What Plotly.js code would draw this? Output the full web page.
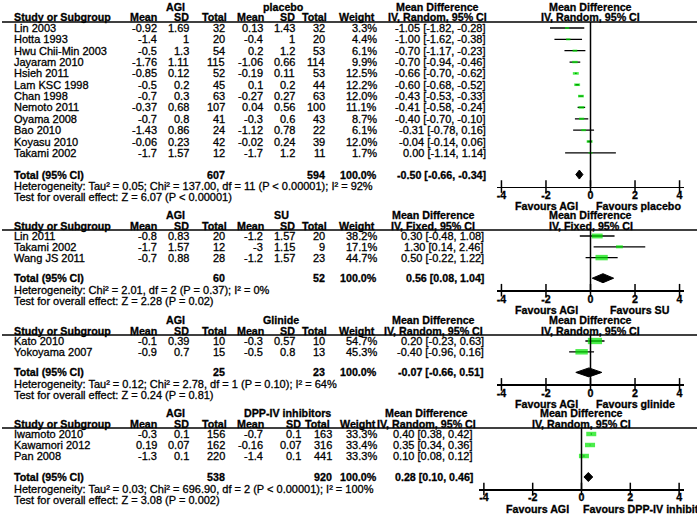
<!DOCTYPE html>
<html><head><meta charset="utf-8">
<script src="https://cdn.plot.ly/plotly-3.0.1.min.js"></script>
<style>html,body{margin:0;padding:0;background:#fff;}#chart{width:697px;height:515px;}
#chart svg text{stroke:#000;stroke-width:0.3px;}</style>
</head><body><div id="chart"></div>
<script>
// ================= DATA =================
// AGI vs placebo
const placeboStudies = ["Lin 2003","Hotta 1993","Hwu Chii-Min 2003","Jayaram 2010","Hsieh 2011","Lam KSC 1998","Chan 1998","Nemoto 2011","Oyama 2008","Bao 2010","Koyasu 2010","Takami 2002"];
const placeboAgiMean = [-0.92,-1.4,-0.5,-1.76,-0.85,-0.5,-0.7,-0.37,-0.7,-1.43,-0.06,-1.7];
const placeboAgiSD   = [1.69,1,1.3,1.11,0.12,0.2,0.3,0.68,0.8,0.86,0.23,1.57];
const placeboAgiN    = [32,20,54,115,52,45,63,107,41,24,42,12];
const placeboCtlMean = [0.13,-0.4,0.2,-1.06,-0.19,0.1,-0.27,0.04,-0.3,-1.12,-0.02,-1.7];
const placeboCtlSD   = [1.43,1,1.2,0.66,0.11,0.2,0.27,0.56,0.6,0.78,0.24,1.2];
const placeboCtlN    = [32,20,53,114,53,44,63,100,43,22,39,11];
const placeboWeight  = [3.3,4.4,6.1,9.9,12.5,12.2,12.0,11.1,8.7,6.1,12.0,1.7];
const placeboMD      = [-1.05,-1.00,-0.70,-0.70,-0.66,-0.60,-0.43,-0.41,-0.40,-0.31,-0.04,0.00];
const placeboLo      = [-1.82,-1.62,-1.17,-0.94,-0.70,-0.68,-0.53,-0.58,-0.70,-0.78,-0.14,-1.14];
const placeboHi      = [-0.28,-0.38,-0.23,-0.46,-0.62,-0.52,-0.33,-0.24,-0.10,0.16,0.06,1.14];
const placeboTotalN  = [607, 594];
const placeboPooled  = [-0.50, -0.66, -0.34];
const placeboHet  = "Heterogeneity: Tau² = 0.05; Chi² = 137.00, df = 11 (P < 0.00001); I² = 92%";
const placeboTest = "Test for overall effect: Z = 6.07 (P < 0.00001)";

// AGI vs SU
const suStudies = ["Lin 2011","Takami 2002","Wang JS 2011"];
const suAgiMean = [-0.8,-1.7,-0.7];
const suAgiSD   = [0.83,1.57,0.88];
const suAgiN    = [20,12,28];
const suCtlMean = [-1.2,-3,-1.2];
const suCtlSD   = [1.57,1.15,1.57];
const suCtlN    = [20,9,23];
const suWeight  = [38.2,17.1,44.7];
const suMD      = [0.30,1.30,0.50];
const suLo      = [-0.48,0.14,-0.22];
const suHi      = [1.08,2.46,1.22];
const suTotalN  = [60, 52];
const suPooled  = [0.56, 0.08, 1.04];
const suHet  = "Heterogeneity: Chi² = 2.01, df = 2 (P = 0.37); I² = 0%";
const suTest = "Test for overall effect: Z = 2.28 (P = 0.02)";

// AGI vs Glinide
const glStudies = ["Kato 2010","Yokoyama 2007"];
const glAgiMean = [-0.1,-0.9];
const glAgiSD   = [0.39,0.7];
const glAgiN    = [10,15];
const glCtlMean = [-0.3,-0.5];
const glCtlSD   = [0.57,0.8];
const glCtlN    = [10,13];
const glWeight  = [54.7,45.3];
const glMD      = [0.20,-0.40];
const glLo      = [-0.23,-0.96];
const glHi      = [0.63,0.16];
const glTotalN  = [25, 23];
const glPooled  = [-0.07, -0.66, 0.51];
const glHet  = "Heterogeneity: Tau² = 0.12; Chi² = 2.78, df = 1 (P = 0.10); I² = 64%";
const glTest = "Test for overall effect: Z = 0.24 (P = 0.81)";

// AGI vs DPP-IV inhibitors
const dppStudies = ["Iwamoto 2010","Kawamori 2012","Pan 2008"];
const dppAgiMean = [-0.3,0.19,-1.3];
const dppAgiSD   = [0.1,0.07,0.1];
const dppAgiN    = [156,162,220];
const dppCtlMean = [-0.7,-0.16,-1.4];
const dppCtlSD   = [0.1,0.07,0.1];
const dppCtlN    = [163,316,441];
const dppWeight  = [33.3,33.4,33.3];
const dppMD      = [0.40,0.35,0.10];
const dppLo      = [0.38,0.34,0.08];
const dppHi      = [0.42,0.36,0.12];
const dppTotalN  = [538, 920];
const dppPooled  = [0.28, 0.10, 0.46];
const dppHet  = "Heterogeneity: Tau² = 0.03; Chi² = 696.90, df = 2 (P < 0.00001); I² = 100%";
const dppTest = "Test for overall effect: Z = 3.08 (P = 0.002)";

const tickVals   = [-4,-2,0,2,4];
const tickLabels = ["-4","-2","0","2","4"];

// ================= BUILD =================
const W = 697, H = 515;
const px = x => x / W, py = y => 1 - y / H;
const FONT = '"Liberation Sans", Arial, sans-serif';
const FS = 11;      // body text
const FSB = 10.7;   // bold header text
const GREEN = '#00e600';

const panels = [
  {studies:placeboStudies, am:placeboAgiMean, asd:placeboAgiSD, an:placeboAgiN, cm:placeboCtlMean, csd:placeboCtlSD, cn:placeboCtlN,
   w:placeboWeight, md:placeboMD, lo:placeboLo, hi:placeboHi, totN:placeboTotalN, pooled:placeboPooled, het:placeboHet, test:placeboTest,
   ctl:"placebo", method:"IV, Random, 95% CI", fav:"Favours placebo",
   st:{top:7, pitch:11.35, plotL:497, plotR:684, ctlHdrC:283, ctlMR:264, ctlSDR:296, ctlTotR:326, totHdrR:328, wHdrR:376, mdR:487, mdC:437, favR:4}},
  {studies:suStudies, am:suAgiMean, asd:suAgiSD, an:suAgiN, cm:suCtlMean, csd:suCtlSD, cn:suCtlN,
   w:suWeight, md:suMD, lo:suLo, hi:suHi, totN:suTotalN, pooled:suPooled, het:suHet, test:suTest,
   ctl:"SU", method:"IV, Fixed, 95% CI", fav:"Favours SU",
   st:{top:215, pitch:10.8, plotL:497, plotR:684, ctlHdrC:281, ctlMR:264, ctlSDR:296, ctlTotR:326, totHdrR:328, wHdrR:376, mdR:485, mdC:433, favR:18}},
  {studies:glStudies, am:glAgiMean, asd:glAgiSD, an:glAgiN, cm:glCtlMean, csd:glCtlSD, cn:glCtlN,
   w:glWeight, md:glMD, lo:glLo, hi:glHi, totN:glTotalN, pooled:glPooled, het:glHet, test:glTest,
   ctl:"Glinide", method:"IV, Random, 95% CI", fav:"Favours glinide",
   st:{top:320, pitch:10.8, plotL:497, plotR:684, ctlHdrC:281, ctlMR:264, ctlSDR:296, ctlTotR:326, totHdrR:328, wHdrR:376, mdR:485, mdC:433, favR:4}},
  {studies:dppStudies, am:dppAgiMean, asd:dppAgiSD, an:dppAgiN, cm:dppCtlMean, csd:dppCtlSD, cn:dppCtlN,
   w:dppWeight, md:dppMD, lo:dppLo, hi:dppHi, totN:dppTotalN, pooled:dppPooled, het:dppHet, test:dppTest,
   ctl:"DPP-IV inhibitors", method:"IV, Random, 95% CI", fav:"Favours DPP-IV inhibitors",
   st:{top:413, pitch:11, plotL:479, plotR:684, ctlHdrC:287, ctlMR:264, ctlSDR:302, ctlTotR:333, totHdrR:331, wHdrR:377, mdR:474, mdC:426, favR:0}}
];

const annotations = [], shapes = [], traces = [];
const layout = {
  width:W, height:H, autosize:false, margin:{l:0,r:0,t:0,b:0,pad:0},
  paper_bgcolor:'#ffffff', plot_bgcolor:'rgba(0,0,0,0)', showlegend:false,
  font:{family:FONT, size:FS, color:'#000'}
};

function txt(x, y, s, anchor, bold, xref, xshift) {
  annotations.push({
    xref: xref || 'paper', yref:'paper',
    x: xref ? x : px(x), y: py(y), xshift: xshift || 0,
    text: bold ? '<b>' + s + '</b>' : s,
    showarrow:false, xanchor:anchor, yanchor:'middle', borderpad:0,
    font:{family:FONT, size: bold ? FSB : FS, color:'#000'}
  });
}
const f2 = v => v.toFixed(2);
const ci = (m,l,h) => f2(m) + ' [' + f2(l) + ', ' + f2(h) + ']';

panels.forEach((p, idx) => {
  const k = idx + 1;
  const xId = k === 1 ? 'x' : 'x' + k, yId = k === 1 ? 'y' : 'y' + k;
  const xKey = k === 1 ? 'xaxis' : 'xaxis' + k, yKey = k === 1 ? 'yaxis' : 'yaxis' + k;
  const s = p.st;
  const hdr1 = s.top, hdr2 = s.top + 10.5, lineY = s.top + 15;
  const rowY = p.studies.map((_, i) => s.top + 21 + i * s.pitch);
  const last = rowY[rowY.length - 1];
  const totY = last + 2 * s.pitch - 1;
  const hetY = totY + 11.5, testY = hetY + 11;
  const axisY = totY + 12, favY = axisY + 19.5;

  layout[xKey] = {
    domain:[px(s.plotL), px(s.plotR)], range:[-4.2, 4.2], anchor:yId,
    showline:true, linecolor:'#000', linewidth:1.5,
    ticks:'', ticklabelstandoff:-2, tickmode:'array', tickvals:tickVals, ticktext:tickLabels,
    tickfont:{family:FONT, size:FSB, color:'#000', weight:'bold'},
    showgrid:false, zeroline:false, fixedrange:true
  };
  layout[yKey] = {
    domain:[py(axisY), py(lineY)], range:[axisY, lineY], anchor:xId,
    visible:false, showgrid:false, zeroline:false, fixedrange:true
  };

  // zero line
  shapes.push({type:'line', xref:xId, yref:yId + ' domain', x0:0, x1:0, y0:0, y1:1, line:{color:'#000', width:1.5}});
  // header underline
  shapes.push({type:'line', xref:'paper', yref:'paper', x0:px(2), x1:1, y0:py(lineY), y1:py(lineY), line:{color:'#000', width:1.5}});

  // headers
  txt(175, hdr1, 'AGI', 'center', true);
  txt(s.ctlHdrC, hdr1, p.ctl, 'center', true);
  txt(s.mdC, hdr1, 'Mean Difference', 'center', true);
  txt(0, hdr1, 'Mean Difference', 'center', true, xId);
  txt(13, hdr2, 'Study or Subgroup', 'left', true);
  txt(158, hdr2, 'Mean', 'right', true);
  txt(190, hdr2, 'SD', 'right', true);
  txt(228, hdr2, 'Total', 'right', true);
  txt(s.ctlMR + 1, hdr2, 'Mean', 'right', true);
  txt(s.ctlSDR, hdr2, 'SD', 'right', true);
  txt(s.totHdrR, hdr2, 'Total', 'right', true);
  txt(s.wHdrR, hdr2, 'Weight', 'right', true);
  txt(s.mdC, hdr2, p.method, 'center', true);
  txt(0, hdr2, p.method, 'center', true, xId);

  // study rows
  p.studies.forEach((name, i) => {
    const y = rowY[i];
    txt(13, y, name, 'left');
    txt(158, y, String(p.am[i]), 'right');
    txt(190, y, String(p.asd[i]), 'right');
    txt(226, y, String(p.an[i]), 'right');
    txt(s.ctlMR, y, String(p.cm[i]), 'right');
    txt(s.ctlSDR, y, String(p.csd[i]), 'right');
    txt(s.ctlTotR, y, String(p.cn[i]), 'right');
    txt(378, y, p.w[i].toFixed(1) + '%', 'right');
    txt(s.mdR, y, ci(p.md[i], p.lo[i], p.hi[i]), 'right');
  });

  // total rows
  txt(13, totY, 'Total (95% CI)', 'left', true);
  txt(226, totY, String(p.totN[0]), 'right', true);
  txt(s.ctlTotR, totY, String(p.totN[1]), 'right', true);
  txt(378, totY, '100.0%', 'right', true);
  txt(s.mdR, totY, ci(p.pooled[0], p.pooled[1], p.pooled[2]), 'right', true);
  txt(13, hetY, p.het, 'left');
  txt(13, testY, p.test, 'left');

  // favours labels
  txt(0, favY, 'Favours AGI', 'right', true, xId, -12);
  txt(0, favY, p.fav, 'left', true, xId, s.favR);

  // CI lines
  const cx = [], cy = [];
  p.studies.forEach((_, i) => { cx.push(p.lo[i], p.hi[i], null); cy.push(rowY[i], rowY[i], null); });
  traces.push({type:'scatter', mode:'lines', x:cx, y:cy, xaxis:xId, yaxis:yId,
    line:{color:'#000', width:1.3}, hoverinfo:'skip', cliponaxis:false});

  // weight boxes
  const bw = p.w.map(w => 2.5 + 0.14 * w);
  traces.push({type:'scatter', mode:'markers', x:p.md, y:rowY, xaxis:xId, yaxis:yId, hoverinfo:'skip', cliponaxis:false,
    marker:{symbol:'line-ew', size:bw, color:GREEN, line:{color:GREEN, width:bw.map(b => b * 0.62)}}});

  // pooled diamond
  const m = p.pooled[0], l = p.pooled[1], h = p.pooled[2], dh = 4.5;
  traces.push({type:'scatter', mode:'lines', x:[l, m, h, m, l], y:[totY, totY - dh, totY, totY + dh, totY],
    xaxis:xId, yaxis:yId, fill:'toself', fillcolor:'#000', line:{color:'#000', width:1}, hoverinfo:'skip', cliponaxis:false});

  // tick marks crossing the axis line
  traces.push({type:'scatter', mode:'markers', x:tickVals, y:tickVals.map(() => axisY), xaxis:xId, yaxis:yId,
    hoverinfo:'skip', cliponaxis:false,
    marker:{symbol:'line-ns', size:9, color:'#000', line:{color:'#000', width:1.5}}});
});

layout.annotations = annotations;
layout.shapes = shapes;
Plotly.newPlot('chart', traces, layout, {staticPlot:true, displayModeBar:false});
</script>
</body></html>
